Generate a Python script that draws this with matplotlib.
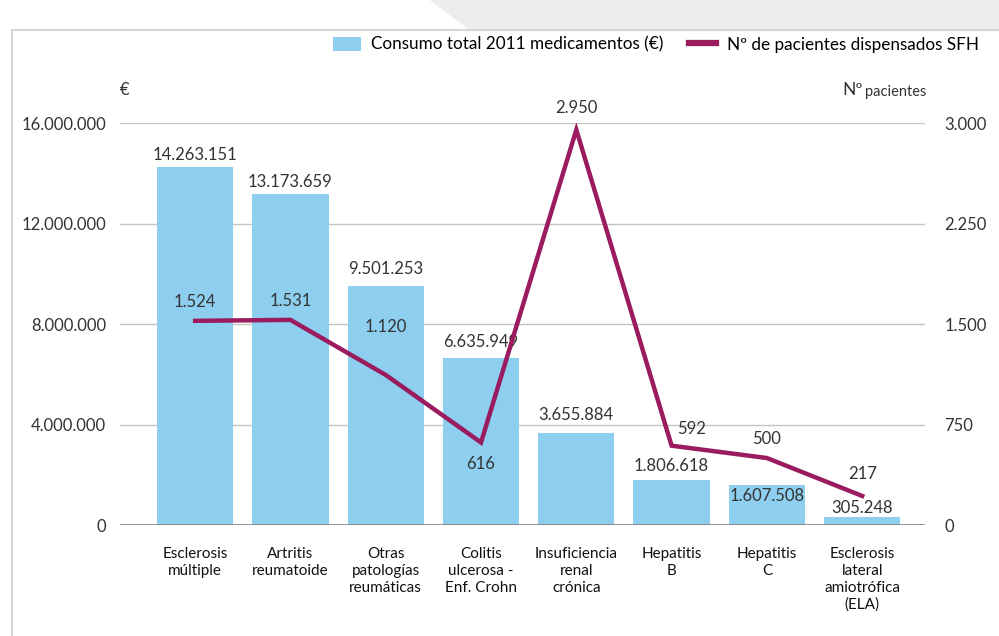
import matplotlib.pyplot as plt
from matplotlib.patches import Rectangle, Polygon
from matplotlib.lines import Line2D

# data
categorias = ["Esclerosis\nmúltiple", "Artritis\nreumatoide", "Otras\npatologías\nreumáticas",
              "Colitis\nulcerosa -\nEnf. Crohn", "Insuficiencia\nrenal\ncrónica", "Hepatitis\nB",
              "Hepatitis\nC", "Esclerosis\nlateral\namiotrófica\n(ELA)"]
consumo = [14263151, 13173659, 9501253, 6635949, 3655884, 1806618, 1607508, 305248]
pacientes = [1524, 1531, 1120, 616, 2950, 592, 500, 217]
ticks_eur = [0, 4000000, 8000000, 12000000, 16000000]
ticks_pac = [0, 750, 1500, 2250, 3000]


def fmt(v):
    return f"{v:,}".replace(",", ".")


azul = "#8ECEEF"
magenta = "#9A1B5E"
gris = "#333333"
plt.rcParams['font.family'] = ['Lato', 'DejaVu Sans']

fig = plt.figure(figsize=(9.99, 6.36), dpi=100)

# background decoration: grey band at top and framed panel
fig.patches.append(Polygon([[0.43, 1], [0.47, 0.953], [1, 0.953], [1, 1]], closed=True,
                           transform=fig.transFigure, facecolor="#ECEDEF", edgecolor="none",
                           zorder=-2))
fig.patches.append(Rectangle((0.012, -0.05), 1.2, 1.003, transform=fig.transFigure,
                             facecolor="none", edgecolor="#D5D6D8", linewidth=1.5, zorder=-1))

ax = fig.add_axes([0.120, 0.1745, 0.806, 0.632])
x = range(len(categorias))
ax.bar(x, consumo, width=0.8, color=azul, zorder=2)
ax.set_xlim(-0.79, 7.66)
ax.set_ylim(0, 16000000)
ax.set_yticks(ticks_eur)
ax.set_yticklabels([fmt(t) for t in ticks_eur])
ax.set_xticks(list(x))
ax.set_xticklabels(categorias, fontsize=11, linespacing=1.25, va="top")
ax.tick_params(axis="x", length=0, pad=16, colors="#111111")
ax.tick_params(axis="y", length=0, pad=10, labelsize=12, colors=gris)
ax.grid(axis="y", color="#C4C4C4", linewidth=1, zorder=0)
for s in ax.spines.values():
    s.set_visible(False)
ax.axhline(0, color="#7A7A7A", linewidth=1.8, zorder=3)

ax2 = ax.twinx()
ax2.plot(list(x), pacientes, color=magenta, linewidth=3.2, solid_joinstyle="miter", zorder=4)
ax2.set_ylim(0, 3000)
ax2.set_yticks(ticks_pac)
ax2.set_yticklabels([fmt(t) for t in ticks_pac])
ax2.tick_params(axis="y", length=0, pad=14, labelsize=12, colors=gris)
for s in ax2.spines.values():
    s.set_visible(False)

# bar value labels (offsets in points)
bar_off = [3, 3, 7, 6, 7, 4, -14, 1]
for i, v in enumerate(consumo):
    ax.annotate(fmt(v), (i, v), xytext=(0, bar_off[i]), textcoords="offset points",
                ha="center", va="bottom", fontsize=12, color=gris, zorder=5)

# line value labels
line_off = [(0, 8), (0, 8), (0, 29), (0, -21), (0, 10), (14, 6), (0, 8), (0, 10)]
for i, v in enumerate(pacientes):
    ax2.annotate(fmt(v), (i, v), xytext=line_off[i], textcoords="offset points",
                 ha="center", va="bottom", fontsize=12, color=gris, zorder=6)

fig.text(0.125, 0.858, "€", ha="center", va="center", fontsize=12, color=gris)
fig.text(0.864, 0.858, "Nº", ha="right", va="center", fontsize=12.5, color=gris)
fig.text(0.866, 0.856, "pacientes", ha="left", va="center", fontsize=10.5, color=gris)

handles = [Rectangle((0, 0), 1, 1, facecolor=azul),
           Line2D([0], [0], color=magenta, linewidth=4.5)]
fig.legend(handles, ["Consumo total 2011 medicamentos (€)", "Nº de pacientes dispensados SFH"],
           loc="center right", bbox_to_anchor=(0.995, 0.93), ncol=2, frameon=False,
           handlelength=1.6, handleheight=0.9, columnspacing=1.5, handletextpad=0.6,
           prop={'family': ['Lato', 'DejaVu Sans'], 'size': 12.3})

fig.savefig("out.png", dpi=100)
